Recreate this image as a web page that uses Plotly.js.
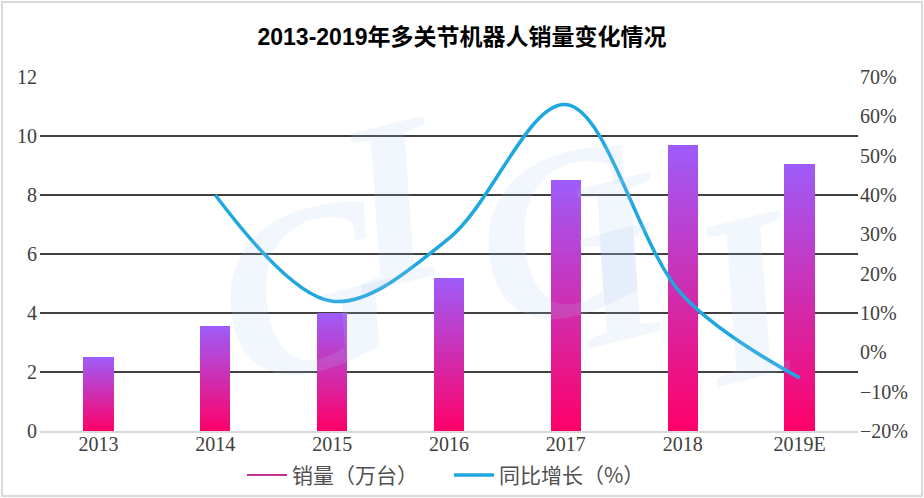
<!DOCTYPE html>
<html>
<head>
<meta charset="utf-8">
<script src="https://cdn.plot.ly/plotly-3.0.1.min.js"></script>
<style>
  html, body { margin: 0; padding: 0; background: #fff; }
  #wrap { position: relative; width: 924px; height: 498px; }
  #chart { width: 924px; height: 498px; }
  #frame { position: absolute; left: 1px; top: 1px; width: 918px; height: 492px;
           border: 2px solid #d9d9d9; pointer-events: none; }
</style>
</head>
<body>
<div id="wrap"><div id="chart"></div><div id="frame"></div></div>
<script>
// ---- data ----
const categories = ['2013', '2014', '2015', '2016', '2017', '2018', '2019E'];
const sales = [2.5, 3.55, 4.0, 5.2, 8.5, 9.7, 9.05];            // 销量（万台）
const growthYears = ['2014', '2015', '2016', '2017', '2018', '2019E'];
const growth = [0.40, 0.13, 0.29, 0.63, 0.145, -0.065];          // 同比增长
const leftTicks = [0, 2, 4, 6, 8, 10, 12];
const salesName = '销量（万台）';
const growthName = '同比增长（%）';
const titleText = '2013-2019年多关节机器人销量变化情况';
const watermarkLetters = ['G', 'I', 'G', 'I', 'I'];

// ---- gradient bars built as stacked slices of each bar ----
const N = 60;
const bottomC = [255, 0, 104];
const topC = [158, 92, 250];
function mix(t) {
  const c = bottomC.map((b, i) => Math.round(b + (topC[i] - b) * t));
  return 'rgb(' + c.join(',') + ')';
}
const traces = [];
for (let i = 0; i < N; i++) {
  traces.push({
    type: 'bar',
    x: categories,
    y: sales.map(v => v / N),
    width: 0.26,
    marker: { color: mix((i + 0.5) / N), line: { width: 0 } },
    showlegend: false,
    hoverinfo: 'skip'
  });
}
// legend stand-in for the bar series (shown as a line, as in the original)
traces.push({
  type: 'scatter', mode: 'lines', name: salesName,
  x: [categories[0]], y: [null],
  line: { color: '#c2309c', width: 2 },
  hoverinfo: 'skip'
});
traces.push({
  type: 'scatter', mode: 'lines', name: growthName,
  x: growthYears, y: growth, yaxis: 'y2',
  line: { color: '#1ea8df', width: 3.5, shape: 'spline', smoothing: 1 }
});

const tickFont = { family: 'Liberation Serif, DejaVu Serif, serif', size: 20, color: '#404040' };

// faint watermark letters (placement only, in paper coordinates)
const wmPos = [[0.18, 0.40], [0.43, 0.24], [0.64, 0.56], [0.81, 0.49], [0.97, 0.38]];
const annotations = watermarkLetters.map((ch, i) => ({
  text: '<b><i>' + ch + '</i></b>', xref: 'paper', yref: 'paper',
  x: wmPos[i][0], y: wmPos[i][1], showarrow: false,
  font: { family: 'Liberation Serif, serif', size: 240, color: 'rgba(175,198,240,0.16)' },
  textangle: -14
}));

const layout = {
  width: 924, height: 498,
  margin: { l: 40, r: 66, t: 77, b: 67, autoexpand: false },
  paper_bgcolor: '#ffffff', plot_bgcolor: '#ffffff',
  barmode: 'stack',
  title: {
    text: titleText,
    x: 0.5, xref: 'container', y: 0.925, yref: 'container', yanchor: 'middle',
    font: { family: 'Liberation Sans, Noto Sans CJK SC, sans-serif', size: 23, color: '#000', weight: 'bold' }
  },
  xaxis: {
    type: 'category',
    tickfont: tickFont,
    showgrid: false,
    showline: true, linecolor: '#d9d9d9', linewidth: 2,
    ticks: '', ticklabelstandoff: -6,
    range: [-0.5, 6.5], fixedrange: true
  },
  yaxis: {
    range: [0, 12], tickvals: leftTicks,
    tickfont: tickFont,
    showgrid: true, gridcolor: '#404040', gridwidth: 1.6,
    zeroline: false, ticks: '', showline: false, ticklabelstandoff: 2,
    fixedrange: true
  },
  yaxis2: {
    overlaying: 'y', side: 'right',
    range: [-0.2, 0.7], dtick: 0.1, tick0: -0.2,
    tickformat: '.0%',
    tickfont: tickFont,
    showgrid: false, zeroline: false, ticks: '', showline: false,
    ticklabelstandoff: 1, fixedrange: true
  },
  legend: {
    orientation: 'h', x: 0.5, xanchor: 'center', y: -0.125, yanchor: 'middle',
    traceorder: 'normal', entrywidth: 152, entrywidthmode: 'pixels',
    font: { family: 'Noto Sans CJK SC, sans-serif', size: 21, color: '#505050' },
    itemwidth: 40, tracegroupgap: 0
  },
  annotations: annotations,
  showlegend: true
};

Plotly.newPlot('chart', traces, layout, { displayModeBar: false, staticPlot: true });
</script>
</body>
</html>
